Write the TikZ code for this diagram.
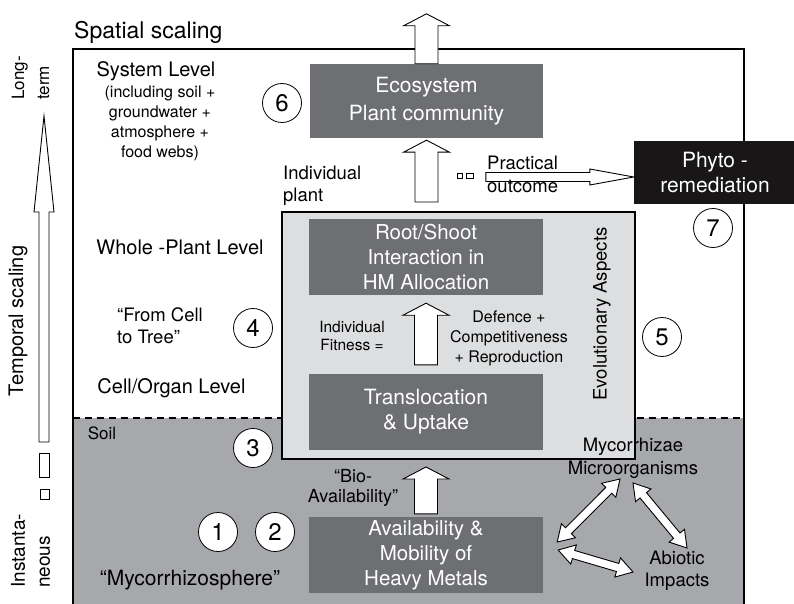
\documentclass[tikz,border=0pt]{standalone}
\usepackage{fontspec}
\setmainfont{TeX Gyre Heros}
\usetikzlibrary{calc}
\definecolor{boxgray}{RGB}{110,111,114}
\definecolor{soilgray}{RGB}{167,168,171}
\definecolor{plantgray}{RGB}{221,222,224}
\definecolor{phytoblack}{RGB}{24,22,23}
\newcommand\fsz[2]{\fontsize{#1}{#2}\selectfont}
\tikzset{
  darkbox/.style={fill=boxgray, text=white, align=center, inner sep=0pt,
    minimum width=234pt, minimum height=76pt, font=\fsz{20.5}{25}},
  hollow/.style={draw=black, fill=white, line width=0.9pt, line join=miter},
  numcirc/.style={circle, draw, fill=white, line width=0.8pt, minimum size=39pt,
    inner sep=0pt, font=\fsz{24}{24}},
  lbl/.style={inner sep=0pt, align=center},
  blockup/.style={to path={let \p1=(\tikztostart), \p2=(\tikztotarget) in
    (\x1-11.5pt,\y1) -- (\x1-11.5pt,\y2-12pt) -- (\x1-23pt,\y2-12pt) -- (\x1,\y2)
    -- (\x1+23pt,\y2-12pt) -- (\x1+11.5pt,\y2-12pt) -- (\x1+11.5pt,\y1) -- cycle}},
  blockright/.style={to path={let \p1=(\tikztostart), \p2=(\tikztotarget) in
    (\x1,\y1+4.5pt) -- (\x2-44pt,\y1+4.5pt) -- (\x2-44pt,\y1+8pt) -- (\x2,\y1)
    -- (\x2-44pt,\y1-8pt) -- (\x2-44pt,\y1-4.5pt) -- (\x1,\y1-4.5pt) -- cycle}},
  dblarrow/.style={to path={let \p1=(\tikztostart), \p2=(\tikztotarget),
      \n1={atan2(\y2-\y1,\x2-\x1)} in
    (\p1) -- ($(\p1)+(\n1:16pt)+(\n1+90:10pt)$) -- ($(\p1)+(\n1:16pt)+(\n1+90:4.2pt)$)
    -- ($(\p2)+(\n1:-16pt)+(\n1+90:4.2pt)$) -- ($(\p2)+(\n1:-16pt)+(\n1+90:10pt)$)
    -- (\p2) -- ($(\p2)+(\n1:-16pt)+(\n1-90:10pt)$) -- ($(\p2)+(\n1:-16pt)+(\n1-90:4.2pt)$)
    -- ($(\p1)+(\n1:16pt)+(\n1-90:4.2pt)$) -- ($(\p1)+(\n1:16pt)+(\n1-90:10pt)$) -- cycle}},
}
\begin{document}
\begin{tikzpicture}[x=1pt,y=-1pt]
\useasboundingbox (0,0) rectangle (794,604);
% soil region and frame
\fill[soilgray] (73,418) rectangle (744,610);
\draw[line width=1.8pt, dash pattern=on 7pt off 5pt] (73,418) -- (744,418);
\draw[line width=2pt] (73,610) -- (73,49) -- (744,49) -- (744,610);

% plant box
\node[draw, line width=2pt, fill=plantgray, minimum width=353pt, minimum height=247pt, inner sep=0pt] (plant) at (458.5,335.5) {};

% dark boxes
\node[darkbox, minimum width=233pt, minimum height=74pt, font=\fsz{21}{28}] (eco) at (426.5,101) {Ecosystem\\Plant community};
\node[darkbox] (root) at (426,257) {Root/Shoot\\Interaction in\\HM Allocation};
\node[darkbox, font=\fsz{21}{25}] (transl) at (426,412) {Translocation\\\& Uptake};
\node[darkbox] (avail) at (426,555) {Availability \&\\Mobility of\\Heavy Metals};
\node[fill=phytoblack, text=white, align=center, inner sep=0pt, minimum width=162pt, minimum height=63pt, font=\fsz{21}{25}] (phyto) at (715,172.5) {Phyto -\\remediation};

% block arrows
\coordinate (topout) at ($(eco.north)+(0,-50)$);
\draw[hollow] (eco.north) to[blockup] (topout);
\draw[hollow] ($(plant.north -| eco.south)+(0,-9)$) to[blockup] ($(eco.south)+(0,2)$);
\draw[hollow] ($(transl.north)+(0,-9)$) to[blockup] ($(root.south)+(0,8)$);
\draw[hollow] ($(avail.north)+(0,-3)$) to[blockup] ($(plant.south -| avail.north)+(0,7)$);

% practical outcome arrow
\coordinate (pstart) at ($(phyto.west)+(-148,4.5)$);
\draw[hollow] (pstart) to[blockright] ($(phyto.west)+(0,4.5)$);
\draw[hollow, line width=0.7pt] ($(pstart)+(-28,-4)$) rectangle +(5,5);
\draw[hollow, line width=0.7pt] ($(pstart)+(-19,-4)$) rectangle +(7,5);

% temporal scaling arrow
\draw[hollow] (39,442) -- (39,212) -- (34,212) -- (44,116) -- (54,212) -- (49,212) -- (49,442) -- cycle;
\draw[hollow] (39,453) rectangle (49,477);
\draw[hollow] (40,489) rectangle (49,499);

% text labels
\node[lbl, anchor=base west, font=\fsz{23}{26}] (spatial) at (74,39) {Spatial scaling};
\node[lbl, rotate=90, font=\fsz{20}{24}] (temporal) at (18,321) {Temporal scaling};
\node[lbl, rotate=90, anchor=west, align=left, font=\fsz{17}{25}] (longterm) at (30.5,100) {Long-\\term};
\node[lbl, rotate=90, anchor=west, align=left, font=\fsz{19}{25}] (instant) at (30.5,588) {Instanta-\\neous};
\node[lbl, font=\fsz{20}{24}] (syslevel) at (156,71) {System Level};
\node[lbl, font=\fsz{16}{20}] (sysdetail) at (160,123) {(including soil +\\groundwater +\\atmosphere +\\food webs)};
\node[lbl, font=\fsz{20}{24}] (wholeplant) at (180,247) {Whole -Plant Level};
\node[lbl, anchor=west, align=left, font=\fsz{18.5}{22}] (fromcell) at (117,326) {“From Cell\\to Tree”};
\node[lbl, font=\fsz{20}{24}] (cellorgan) at (171.5,388) {Cell/Organ Level};
\node[lbl, font=\fsz{17}{20}] (soil) at (102,433) {Soil};
\node[lbl, font=\fsz{18}{20}] (bio) at (353,488) {“Bio-\\Availability”};
\node[lbl, font=\fsz{21}{24}] (mycsphere) at (190,580) {“Mycorrhizosphere”};
\node[lbl, anchor=west, align=left, font=\fsz{18.5}{22}] (indplant) at (283,186) {Individual\\plant};
\node[lbl, anchor=base west, font=\fsz{18.5}{22}] (practical) at (487,170) {Practical};
\node[lbl, anchor=base west, font=\fsz{18.5}{22}] (outcome) at (487,193) {outcome};
\node[lbl, font=\fsz{15.5}{18}] (fitness) at (352,336) {Individual\\Fitness =};
\node[lbl, font=\fsz{16}{20}] (defence) at (509,338) {Defence +\\Competitiveness\\+ Reproduction};
\node[lbl, rotate=90, font=\fsz{18.5}{22}] (evol) at (602,314) {Evolutionary Aspects};
\node[lbl, font=\fsz{18.5}{23}] (myco) at (633,458) {Mycorrhizae\\Microorganisms};
\node[lbl, font=\fsz{18.5}{22}] (abiotic) at (677,571) {Abiotic\\Impacts};

% double arrows
\draw[hollow] ($(avail.east)+(14,-13)$) to[dblarrow] ($(myco.center)+(-13,21)$);
\draw[hollow] ($(myco.center)+(0,25)$) to[dblarrow] ($(abiotic.center)+(10,-23)$);
\draw[hollow] ($(avail.east)+(15,-5)$) to[dblarrow] ($(abiotic.center)+(-44,1)$);

% numbered circles
\node[numcirc] (c1) at (218,532) {1};
\node[numcirc] (c2) at (275,532) {2};
\node[numcirc] (c3) at (253,448) {3};
\node[numcirc] (c4) at (253,328) {4};
\node[numcirc] (c5) at (662,337) {5};
\node[numcirc] (c6) at (282,103) {6};
\node[numcirc] (c7) at (713,228) {7};
\end{tikzpicture}
\end{document}
